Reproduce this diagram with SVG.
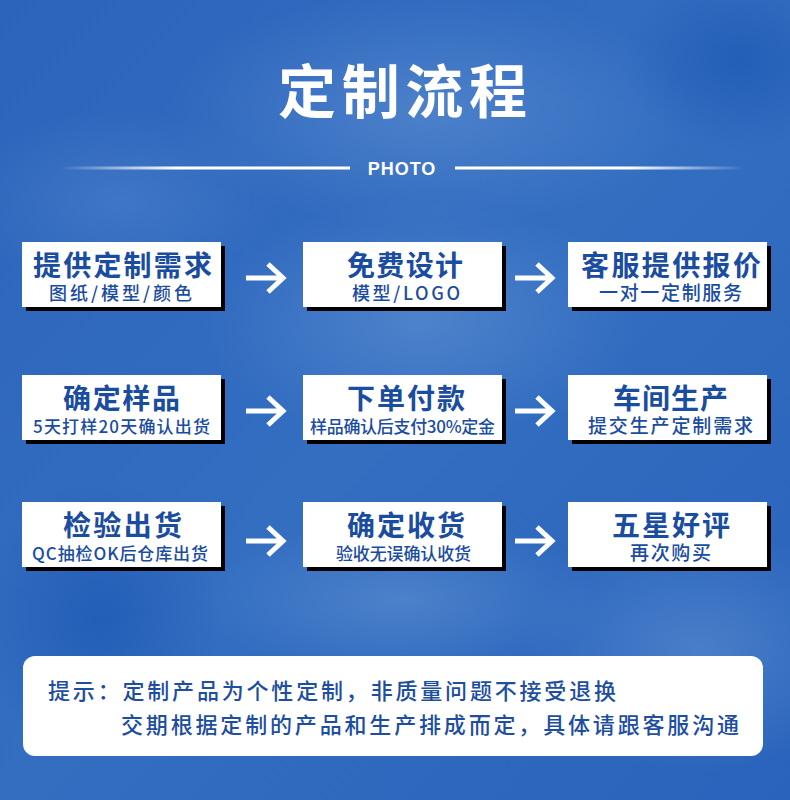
<svg xmlns="http://www.w3.org/2000/svg" width="790" height="800" viewBox="0 0 790 800">
<defs>
  <linearGradient id="bg" x1="0" y1="0" x2="1" y2="1">
    <stop offset="0" stop-color="#2c64bb"/>
    <stop offset="0.5" stop-color="#336ec1"/>
    <stop offset="1" stop-color="#2a63bb"/>
  </linearGradient>
  <radialGradient id="cloud" cx="0.5" cy="0.5" r="0.5">
    <stop offset="0" stop-color="#6e9bd8" stop-opacity="0.45"/>
    <stop offset="1" stop-color="#6e9bd8" stop-opacity="0"/>
  </radialGradient>
  <radialGradient id="dark" cx="0.5" cy="0.5" r="0.5">
    <stop offset="0" stop-color="#1d58b3" stop-opacity="0.7"/>
    <stop offset="1" stop-color="#1d58b3" stop-opacity="0"/>
  </radialGradient>
  <linearGradient id="lineL" x1="0" y1="0" x2="1" y2="0">
    <stop offset="0" stop-color="#ffffff" stop-opacity="0"/>
    <stop offset="0.4" stop-color="#ffffff" stop-opacity="1"/>
    <stop offset="1" stop-color="#ffffff" stop-opacity="1"/>
  </linearGradient>
  <linearGradient id="lineR" x1="0" y1="0" x2="1" y2="0">
    <stop offset="0" stop-color="#ffffff" stop-opacity="1"/>
    <stop offset="0.6" stop-color="#ffffff" stop-opacity="1"/>
    <stop offset="1" stop-color="#ffffff" stop-opacity="0"/>
  </linearGradient>
  <style>
    .box{fill:#ffffff}
    .shadow{fill:#000000}
    .t{font-family:"Noto Sans CJK SC","Noto Sans",sans-serif;font-weight:700;font-size:28px;fill:#1a4c9f;text-anchor:middle}
    .s{font-family:"Noto Sans CJK SC","Noto Sans",sans-serif;font-weight:500;font-size:17px;fill:#1a4c9f;text-anchor:middle}
    .s18{font-size:18px}
    .s19{font-size:19px}
    .arrow{fill:none;stroke:#ffffff;stroke-width:5;stroke-linejoin:miter}
    .note{font-family:"Noto Sans CJK SC","Noto Sans",sans-serif;font-weight:500;font-size:22px;fill:#1d4ea0}
  </style>
</defs>
<rect x="0" y="0" width="790" height="800" fill="url(#bg)"/>
<ellipse cx="430" cy="110" rx="260" ry="120" fill="url(#cloud)"/>
<ellipse cx="420" cy="320" rx="220" ry="120" fill="url(#cloud)"/>
<ellipse cx="120" cy="200" rx="160" ry="90" fill="url(#cloud)" opacity="0.6"/>
<ellipse cx="700" cy="650" rx="180" ry="120" fill="url(#cloud)"/>
<ellipse cx="400" cy="600" rx="200" ry="80" fill="url(#cloud)"/>
<ellipse cx="100" cy="620" rx="120" ry="140" fill="url(#dark)"/>
<ellipse cx="740" cy="60" rx="120" ry="90" fill="url(#dark)"/>

<g id="title">
  <text x="402.5" y="113" font-family="'Noto Sans CJK SC','Noto Sans',sans-serif" font-weight="700" font-size="58" fill="#ffffff" text-anchor="middle" textLength="249" lengthAdjust="spacing">定制流程</text>
  <rect x="60" y="166.5" width="290" height="3" fill="url(#lineL)"/>
  <rect x="455" y="166.5" width="290" height="3" fill="url(#lineR)"/>
  <text x="402" y="175" font-family="'Liberation Sans',Arial,sans-serif" font-weight="700" font-size="18" fill="#ffffff" text-anchor="middle" letter-spacing="1">PHOTO</text>
</g>

<g id="step1">
  <rect class="shadow" x="26" y="246" width="199" height="65"/>
  <rect class="box" x="22" y="242" width="199" height="65"/>
  <text class="t" x="122.5" y="276" textLength="179" lengthAdjust="spacing">提供定制需求</text>
  <text class="s s18" x="120.5" y="300" textLength="143" lengthAdjust="spacing">图纸/模型/颜色</text>
</g>
<g id="step2">
  <rect class="shadow" x="307" y="246" width="199" height="65"/>
  <rect class="box" x="303" y="242" width="199" height="65"/>
  <text class="t" x="405" y="276" textLength="116" lengthAdjust="spacing">免费设计</text>
  <text class="s s18" x="406" y="300" textLength="108" lengthAdjust="spacing">模型/LOGO</text>
</g>
<g id="step3">
  <rect class="shadow" x="572" y="246" width="199" height="65"/>
  <rect class="box" x="568" y="242" width="199" height="65"/>
  <text class="t" x="671" y="276" textLength="180" lengthAdjust="spacing">客服提供报价</text>
  <text class="s s19" x="670.5" y="300" textLength="143" lengthAdjust="spacing">一对一定制服务</text>
</g>
<g id="step4">
  <rect class="shadow" x="26" y="379" width="199" height="65"/>
  <rect class="box" x="22" y="375" width="199" height="65"/>
  <text class="t" x="121.5" y="409" textLength="117" lengthAdjust="spacing">确定样品</text>
  <text class="s" x="121.5" y="433" textLength="177" lengthAdjust="spacing">5天打样20天确认出货</text>
</g>
<g id="step5">
  <rect class="shadow" x="307" y="379" width="199" height="65"/>
  <rect class="box" x="303" y="375" width="199" height="65"/>
  <text class="t" x="406" y="409" textLength="118" lengthAdjust="spacing">下单付款</text>
  <text class="s" x="402.5" y="433" textLength="185" lengthAdjust="spacing">样品确认后支付30%定金</text>
</g>
<g id="step6">
  <rect class="shadow" x="572" y="379" width="199" height="65"/>
  <rect class="box" x="568" y="375" width="199" height="65"/>
  <text class="t" x="670.5" y="409" textLength="115" lengthAdjust="spacing">车间生产</text>
  <text class="s s19" x="670.5" y="433" textLength="165" lengthAdjust="spacing">提交生产定制需求</text>
</g>
<g id="step7">
  <rect class="shadow" x="26" y="506" width="199" height="65"/>
  <rect class="box" x="22" y="502" width="199" height="65"/>
  <text class="t" x="122.5" y="536" textLength="119" lengthAdjust="spacing">检验出货</text>
  <text class="s" x="120" y="560" textLength="176" lengthAdjust="spacing">QC抽检OK后仓库出货</text>
</g>
<g id="step8">
  <rect class="shadow" x="307" y="506" width="199" height="65"/>
  <rect class="box" x="303" y="502" width="199" height="65"/>
  <text class="t" x="406" y="536" textLength="118" lengthAdjust="spacing">确定收货</text>
  <text class="s" x="403.5" y="560" textLength="135" lengthAdjust="spacing">验收无误确认收货</text>
</g>
<g id="step9">
  <rect class="shadow" x="572" y="506" width="199" height="65"/>
  <rect class="box" x="568" y="502" width="199" height="65"/>
  <text class="t" x="671" y="536" textLength="118" lengthAdjust="spacing">五星好评</text>
  <text class="s s19" x="670.5" y="560" textLength="81" lengthAdjust="spacing">再次购买</text>
</g>

<g id="connectors">
  <path class="arrow" d="M246 278 H281 M268 264 L283 278 L268 292"/>
  <path class="arrow" d="M515 278 H550 M537 264 L552 278 L537 292"/>
  <path class="arrow" d="M246 411 H281 M268 397 L283 411 L268 425"/>
  <path class="arrow" d="M515 411 H550 M537 397 L552 411 L537 425"/>
  <path class="arrow" d="M246 541 H281 M268 527 L283 541 L268 555"/>
  <path class="arrow" d="M515 541 H550 M537 527 L552 541 L537 555"/>
</g>

<g id="notice">
  <rect x="23" y="656" width="740" height="100" rx="12" ry="12" fill="#ffffff"/>
  <text class="note" x="48" y="699" textLength="568" lengthAdjust="spacing">提示：定制产品为个性定制，非质量问题不接受退换</text>
  <text class="note" x="121" y="733" textLength="618" lengthAdjust="spacing">交期根据定制的产品和生产排成而定，具体请跟客服沟通</text>
</g>
</svg>
